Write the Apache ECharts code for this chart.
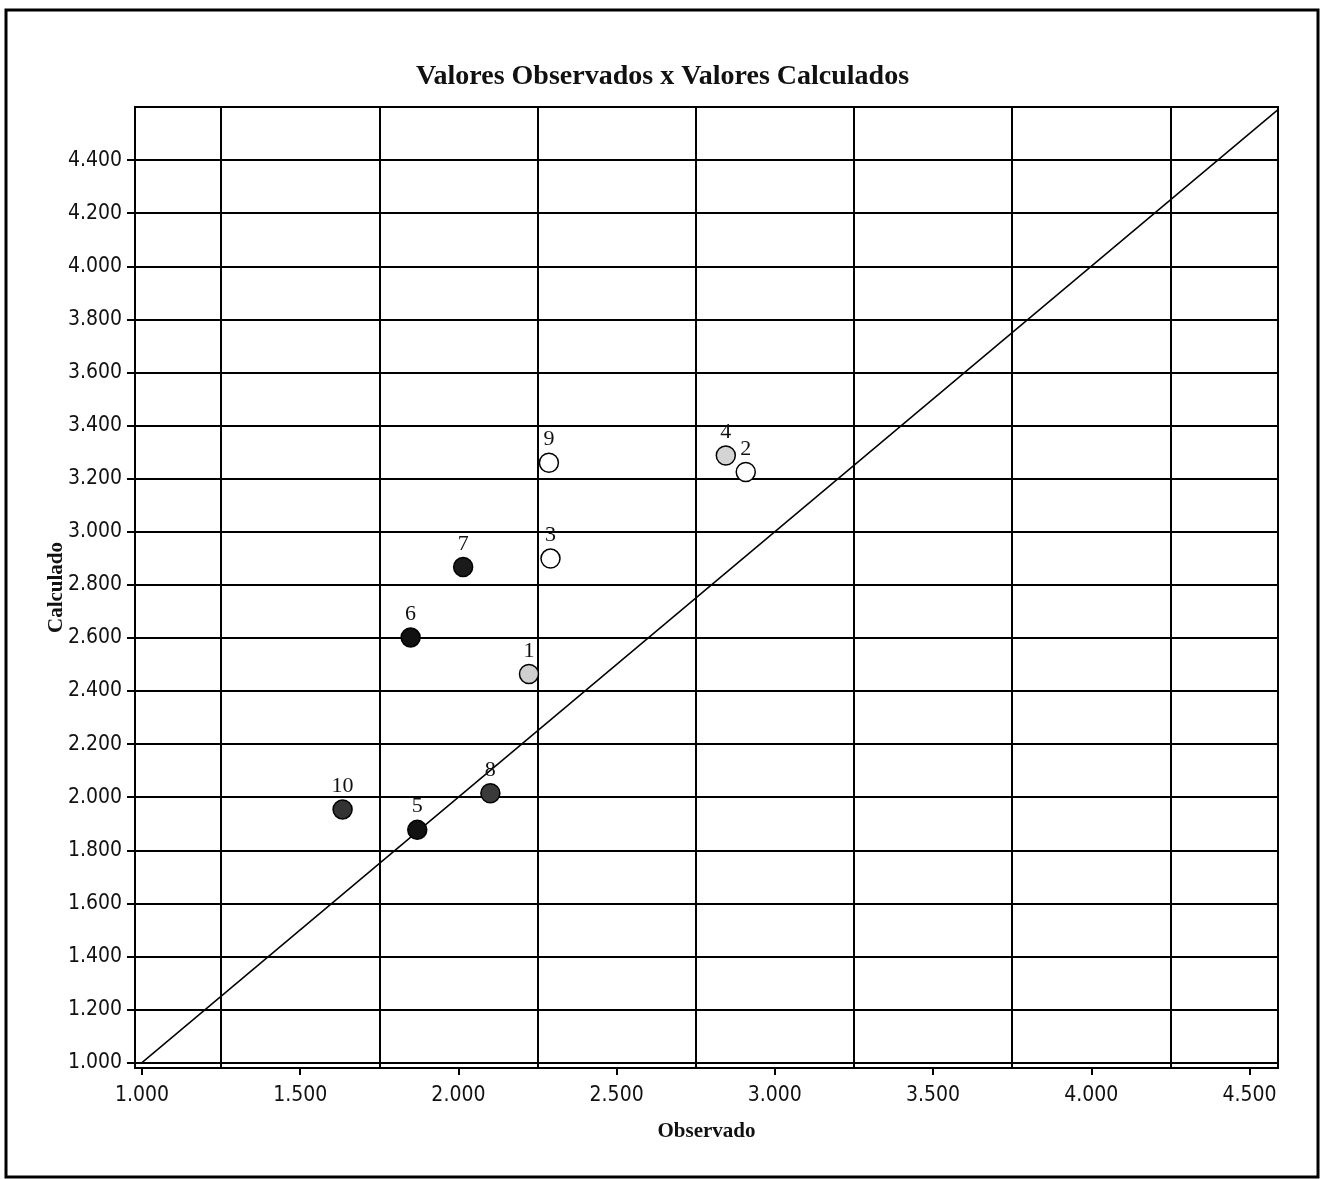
<!DOCTYPE html>
<html>
<head>
<meta charset="utf-8">
<title>Valores Observados x Valores Calculados</title>
<script src="https://cdn.jsdelivr.net/npm/echarts@6/dist/echarts.min.js"></script>
<style>
  html, body { margin: 0; padding: 0; background: #fff; }
  #chart { width: 1325px; height: 1179px; }
</style>
</head>
<body>
<div id="chart"></div>
<script>
// point ids and values
const pointNames = ['1', '2', '3', '4', '5', '6', '7', '8', '9', '10'];
const observado = [2.223, 2.908, 2.291, 2.845, 1.870, 1.849, 2.015, 2.101, 2.286, 1.634];
const calculado = [2.464, 3.225, 2.899, 3.287, 1.877, 2.602, 2.867, 2.015, 3.260, 1.954];
const pointFill = ['#cfcfcf', '#ffffff', '#ffffff', '#d4d4d4', '#111111', '#111111', '#1a1a1a', '#3a3a3a', '#ffffff', '#333333'];

const xTicks = [1.0, 1.5, 2.0, 2.5, 3.0, 3.5, 4.0, 4.5];
const yTicks = [1.0, 1.2, 1.4, 1.6, 1.8, 2.0, 2.2, 2.4, 2.6, 2.8, 3.0, 3.2, 3.4, 3.6, 3.8, 4.0, 4.2, 4.4];
const xGridLines = [1.25, 1.75, 2.25, 2.75, 3.25, 3.75, 4.25];
const yGridLines = yTicks;

// identity line (observado = calculado)
const diagX = [1.0, 4.59];
const diagY = [1.0, 4.59];

const chart = echarts.init(document.getElementById('chart'));

const tickFont = { fontFamily: '"Liberation Sans Narrow", "DejaVu Sans Condensed", sans-serif', fontSize: 21, color: '#111' };
const serif = '"Liberation Serif", "DejaVu Serif", serif';

const scatterData = pointNames.map((n, i) => ({
  name: n,
  value: [observado[i], calculado[i]],
  itemStyle: { color: pointFill[i] }
}));

const option = {
  animation: false,
  backgroundColor: '#fff',
  title: {
    text: 'Valores Observados x Valores Calculados',
    left: 'center',
    top: 58,
    textStyle: { fontFamily: serif, fontWeight: 'bold', fontSize: 28, color: '#111' }
  },
  graphic: [{
    type: 'rect',
    shape: { x: 6, y: 10, width: 1312, height: 1167 },
    style: { fill: 'none', stroke: '#000', lineWidth: 3 },
    silent: true
  }],
  grid: {
    left: 135, top: 107, width: 1143, height: 961,
    show: true, borderColor: '#000', borderWidth: 2, backgroundColor: '#fff'
  },
  xAxis: {
    type: 'value',
    min: 0.978, max: 4.59,
    name: 'Observado',
    nameLocation: 'middle',
    nameGap: 53,
    nameMoveOverlap: false,
    nameTextStyle: { fontFamily: serif, fontWeight: 'bold', fontSize: 21, color: '#111' },
    axisLine: { show: true, onZero: false, lineStyle: { color: '#000', width: 2 } },
    axisTick: { show: true, length: 7, customValues: xTicks, lineStyle: { color: '#000', width: 2 } },
    axisLabel: { customValues: xTicks, margin: 17, formatter: v => v.toFixed(3), ...tickFont },
    splitLine: { show: false }
  },
  yAxis: {
    type: 'value',
    min: 0.98, max: 4.6,
    name: 'Calculado',
    nameLocation: 'middle',
    nameGap: 68,
    nameMoveOverlap: false,
    nameRotate: 90,
    nameTextStyle: { fontFamily: serif, fontWeight: 'bold', fontSize: 21, color: '#111' },
    axisLine: { show: true, onZero: false, lineStyle: { color: '#000', width: 2 } },
    axisTick: { show: true, length: 8, customValues: yTicks, lineStyle: { color: '#000', width: 2 } },
    axisLabel: { customValues: yTicks, margin: 13, formatter: v => v.toFixed(3), ...tickFont },
    splitLine: { show: false }
  },
  series: [
    {
      type: 'line',
      data: diagX.map((x, i) => [x, diagY[i]]),
      symbol: 'none',
      silent: true,
      lineStyle: { color: '#000', width: 1.5 },
      markLine: {
        silent: true,
        symbol: 'none',
        label: { show: false },
        lineStyle: { color: '#000', width: 2, type: 'solid' },
        data: [
          ...xGridLines.map(v => ({ xAxis: v })),
          ...yGridLines.map(v => ({ yAxis: v }))
        ]
      }
    },
    {
      type: 'scatter',
      data: scatterData,
      symbol: 'circle',
      symbolSize: 19,
      itemStyle: { borderColor: '#000', borderWidth: 1.5, opacity: 1 },
      label: {
        show: true,
        position: 'top',
        distance: 2,
        formatter: p => p.name,
        fontFamily: serif,
        fontSize: 22,
        color: '#111'
      },
      z: 5
    }
  ]
};

chart.setOption(option);
</script>
</body>
</html>
